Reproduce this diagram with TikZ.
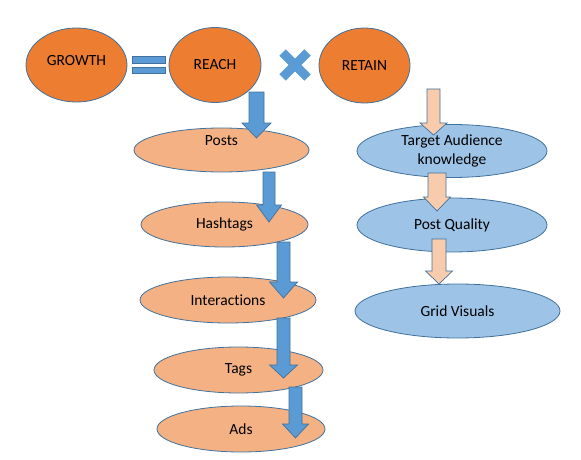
\documentclass[tikz,border=0pt]{standalone}
\usepackage{fontspec}
\setmainfont{Carlito}[Ligatures={NoCommon}]
\usepackage{tikz}
\usetikzlibrary{calc,shapes.geometric}
\definecolor{topfill}{HTML}{ED7D31}
\definecolor{reachfill}{HTML}{F4B183}
\definecolor{retainfill}{HTML}{9DC3E6}
\definecolor{officeblue}{HTML}{5B9BD5}
\definecolor{peach}{HTML}{F8CBAD}
\definecolor{edgeblue}{HTML}{41719C}

% vertical block arrow: [fill]{from}{to}{half shaft}{half head}{head length}
\newcommand{\blockarrow}[6][officeblue]{%
  \draw[blockarr,fill=#1] let \p1=(#2), \p2=(#3) in
    ({\x1-#4pt},\y1) -- ({\x1+#4pt},\y1) -- ({\x1+#4pt},{\y2+#6pt})
    -- ({\x1+#5pt},{\y2+#6pt}) -- (\x1,\y2) -- ({\x1-#5pt},{\y2+#6pt})
    -- ({\x1-#4pt},{\y2+#6pt}) -- cycle;}

\begin{document}
\begin{tikzpicture}[
    x=1pt,y=1pt,
    font=\fontsize{15.5}{18.5}\selectfont,
    ell/.style={ellipse,draw=edgeblue,line width=0.8pt,inner sep=0pt,
      align=center,text=black},
    topell/.style={ell,fill=topfill,minimum width=92pt,minimum height=75pt},
    reachell/.style={ell,fill=reachfill,minimum height=45pt},
    retainell/.style={ell,fill=retainfill,minimum height=54pt},
    blockarr/.style={draw=edgeblue,line width=0.7pt,line join=miter},
    sign/.style={officeblue}
  ]
    \useasboundingbox (0,0) rectangle (581,459);

    \node[topell,minimum width=101pt,minimum height=74pt] (growth) at (76.5,394)
      {\raisebox{4pt}[\height][\depth]{GROWTH}};
    \node[topell] (reach) at (215,394) {REACH};
    \node[topell,minimum width=91pt] (retain) at (364.5,393.5) {RETAIN};

    % equals and times signs
    \fill[sign,draw=edgeblue,line width=0.3pt] (132,396) rectangle (165,403);
    \fill[sign,draw=edgeblue,line width=0.3pt] (132,386) rectangle (165,392);
    \draw[sign,line width=9pt] (282.5,381.5) -- (307.5,406.5);
    \draw[sign,line width=9pt] (282.5,406.5) -- (307.5,381.5);

    \node[reachell,minimum width=175pt,minimum height=44pt] (posts) at (221.5,309)
      {\raisebox{9pt}[\height][\depth]{Posts}};
    \node[reachell,minimum width=167pt] (hashtags) at (224.5,234.5) {Hashtags};
    \node[reachell,minimum width=176pt,minimum height=46pt] (interactions) at (228,159)
      {Interactions};
    \node[reachell,minimum width=169pt,minimum height=46pt] (tags) at (238.5,89) {Tags};
    \node[reachell,minimum width=168pt,minimum height=46pt] (ads) at (241,30) {Ads};

    \node[retainell,minimum width=190pt,minimum height=53pt] (target) at (452,308)
      {Target Audience\\knowledge};
    \node[retainell,minimum width=190pt] (quality) at (452,234) {Post Quality};
    \node[retainell,minimum width=205pt] (grid) at (457.5,148) {Grid Visuals};

    \blockarrow{$(reach.center)+(41.5,-27)$}{$(posts.center)+(35,12)$}{7.5}{14.5}{15}
    \blockarrow{$(posts.center)+(47.5,-22)$}{$(hashtags.center)+(44.5,2.5)$}{6}{12.5}{17}
    \blockarrow{$(hashtags.center)+(59,-17.5)$}{$(interactions.center)+(55.5,2)$}{6.5}{14}{16}
    \blockarrow{$(interactions.center)+(55.5,-18)$}{$(tags.center)+(45,-8)$}{6.5}{14}{13}
    \blockarrow{$(tags.center)+(57,-17)$}{$(ads.center)+(54.5,-9)$}{6.5}{13}{14}

    \blockarrow[peach]{$(retain.center)+(69,-23.5)$}{$(target.center)+(-18.5,16)$}{6.5}{13.5}{12}
    \blockarrow[peach]{$(target.center)+(-15,-22)$}{$(quality.center)+(-15,14)$}{9}{13.5}{14}
    \blockarrow[peach]{$(quality.center)+(-13,-14)$}{$(grid.center)+(-18.5,27)$}{7}{13.5}{13}
\end{tikzpicture}
\end{document}
